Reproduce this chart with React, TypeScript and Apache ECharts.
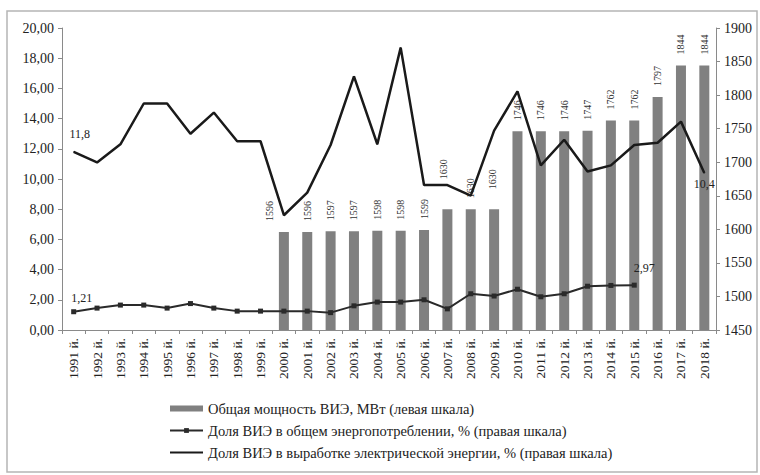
import React, { useEffect, useRef } from "react";
import * as echarts from "echarts";

const years = [
  "1991 й.", "1992 й.", "1993 й.", "1994 й.", "1995 й.", "1996 й.", "1997 й.", "1998 й.", "1999 й.",
  "2000 й.", "2001 й.", "2002 й.", "2003 й.", "2004 й.", "2005 й.", "2006 й.", "2007 й.", "2008 й.",
  "2009 й.", "2010 й.", "2011 й.", "2012 й.", "2013 й.", "2014 й.", "2015 й.", "2016 й.", "2017 й.", "2018 й.",
];

// Общая мощность ВИЭ, МВт
const capacity: (number | null)[] = [
  null, null, null, null, null, null, null, null, null,
  1596, 1596, 1597, 1597, 1598, 1598, 1599, 1630, 1630, 1630,
  1746, 1746, 1746, 1747, 1762, 1762, 1797, 1844, 1844,
];

// Доля ВИЭ в общем энергопотреблении, %
const consumptionShare: (number | null)[] = [
  1.21, 1.45, 1.65, 1.65, 1.45, 1.75, 1.45, 1.25, 1.25,
  1.25, 1.25, 1.15, 1.6, 1.85, 1.85, 2.0, 1.4, 2.4, 2.25,
  2.7, 2.2, 2.4, 2.9, 2.95, 2.97, null, null, null,
];

// Доля ВИЭ в выработке электрической энергии, %
const electricityShare: number[] = [
  11.8, 11.1, 12.3, 15.0, 15.0, 13.0, 14.4, 12.5, 12.5,
  7.6, 9.1, 12.25, 16.8, 12.3, 18.7, 9.6, 9.6, 8.9, 13.2,
  15.8, 10.9, 12.6, 10.5, 10.9, 12.25, 12.4, 13.8, 10.4,
];

const seriesNames = [
  "Общая мощность ВИЭ, МВт (левая шкала)",
  "Доля ВИЭ в общем энергопотреблении, % (правая шкала)",
  "Доля ВИЭ в выработке электрической энергии, % (правая шкала)",
];

const FONT = '"Liberation Serif", "DejaVu Serif", serif';
const comma = (v: number) => String(v).replace(".", ",");

export default function App() {
  const ref = useRef<HTMLDivElement>(null);
  useEffect(() => {
    if (!ref.current) return;
    const chart = echarts.init(ref.current, undefined, { renderer: "svg" });

    // label offsets are in the rotated frame: [up, right]
    const barData = capacity.map((v, i) => {
      if (v === null) return null;
      const item: any = { value: v };
      if (i === 9) item.label = { offset: [0, -14] };
      if (i === 16) item.label = { offset: [19, -4] };
      if (i === 18) item.label = { offset: [9, -2] };
      return item;
    });

    const consData = consumptionShare.map((v, i) => {
      const item: any = { value: v };
      if (i === 0) item.label = { show: true, position: "top", offset: [8, 0] };
      if (i === 24) item.label = { show: true, position: "top", offset: [10, -4] };
      return item;
    });

    const elecData = electricityShare.map((v, i) => {
      const item: any = { value: v };
      if (i === 0) item.label = { show: true, position: "top", offset: [6, -6] };
      if (i === electricityShare.length - 1)
        item.label = { show: true, position: "bottom", offset: [0, 0] };
      return item;
    });

    chart.setOption({
      animation: false,
      backgroundColor: "#ffffff",
      textStyle: { fontFamily: FONT },
      graphic: [
        {
          type: "rect",
          shape: { x: 7, y: 11, width: 750, height: 461 },
          style: { fill: "none", stroke: "#b5b5b5", lineWidth: 1.5 },
          silent: true,
        },
      ],
      grid: { left: 62, right: 44, top: 28, bottom: 145 },
      legend: {
        orient: "vertical",
        left: 164,
        top: 396,
        itemWidth: 33,
        itemHeight: 6,
        itemGap: 7,
        textStyle: { fontFamily: FONT, fontSize: 14.5, color: "#222" },
        data: [
          { name: seriesNames[0], icon: "rect" },
          { name: seriesNames[1] },
          { name: seriesNames[2], itemStyle: { opacity: 0 } },
        ],
      },
      xAxis: {
        type: "category",
        data: years,
        axisLine: { lineStyle: { color: "#8a8a8a", width: 1 } },
        axisTick: { show: true, length: 4, lineStyle: { color: "#8a8a8a" } },
        axisLabel: {
          interval: 0,
          rotate: 90,
          fontFamily: FONT,
          fontSize: 13.5,
          color: "#222",
          margin: 8,
        },
      },
      yAxis: [
        {
          type: "value",
          min: 0,
          max: 20,
          interval: 2,
          position: "left",
          splitLine: { show: false },
          axisLine: { show: true, lineStyle: { color: "#8a8a8a" } },
          axisTick: { show: true, length: 4, lineStyle: { color: "#8a8a8a" } },
          axisLabel: {
            fontFamily: FONT,
            fontSize: 14,
            color: "#222",
            margin: 8,
            formatter: (v: number) => v.toFixed(2).replace(".", ","),
          },
        },
        {
          type: "value",
          min: 1450,
          max: 1900,
          interval: 50,
          position: "right",
          splitLine: { show: false },
          axisLine: { show: true, lineStyle: { color: "#8a8a8a" } },
          axisTick: { show: true, length: 4, lineStyle: { color: "#8a8a8a" } },
          axisLabel: {
            fontFamily: FONT,
            fontSize: 14,
            color: "#222",
            margin: 8,
            formatter: (v: number) => String(v),
          },
        },
      ],
      series: [
        {
          name: seriesNames[0],
          type: "bar",
          yAxisIndex: 1,
          data: barData,
          barWidth: 10,
          itemStyle: { color: "#808080" },
          label: {
            show: true,
            position: "top",
            rotate: 90,
            align: "left",
            verticalAlign: "middle",
            distance: 11,
            fontFamily: FONT,
            fontSize: 10,
            color: "#333",
          },
          z: 1,
        },
        {
          name: seriesNames[1],
          type: "line",
          yAxisIndex: 0,
          data: consData,
          symbol: "rect",
          symbolSize: 5,
          lineStyle: { color: "#2a2a2a", width: 2 },
          itemStyle: { color: "#2a2a2a" },
          label: {
            show: false,
            fontFamily: FONT,
            fontSize: 12,
            color: "#222",
            formatter: (p: any) => comma(p.value),
          },
          z: 3,
        },
        {
          name: seriesNames[2],
          type: "line",
          yAxisIndex: 0,
          data: elecData,
          symbol: "circle",
          symbolSize: 1,
          showSymbol: true,
          lineStyle: { color: "#1a1a1a", width: 2.5 },
          itemStyle: { color: "#1a1a1a" },
          label: {
            show: false,
            fontFamily: FONT,
            fontSize: 12,
            color: "#222",
            formatter: (p: any) => comma(p.value),
          },
          z: 4,
        },
      ],
    });
    return () => chart.dispose();
  }, []);

  return (
    <div
      ref={ref}
      style={{ position: "absolute", left: 0, top: 0, width: 760, height: 475 }}
    />
  );
}
